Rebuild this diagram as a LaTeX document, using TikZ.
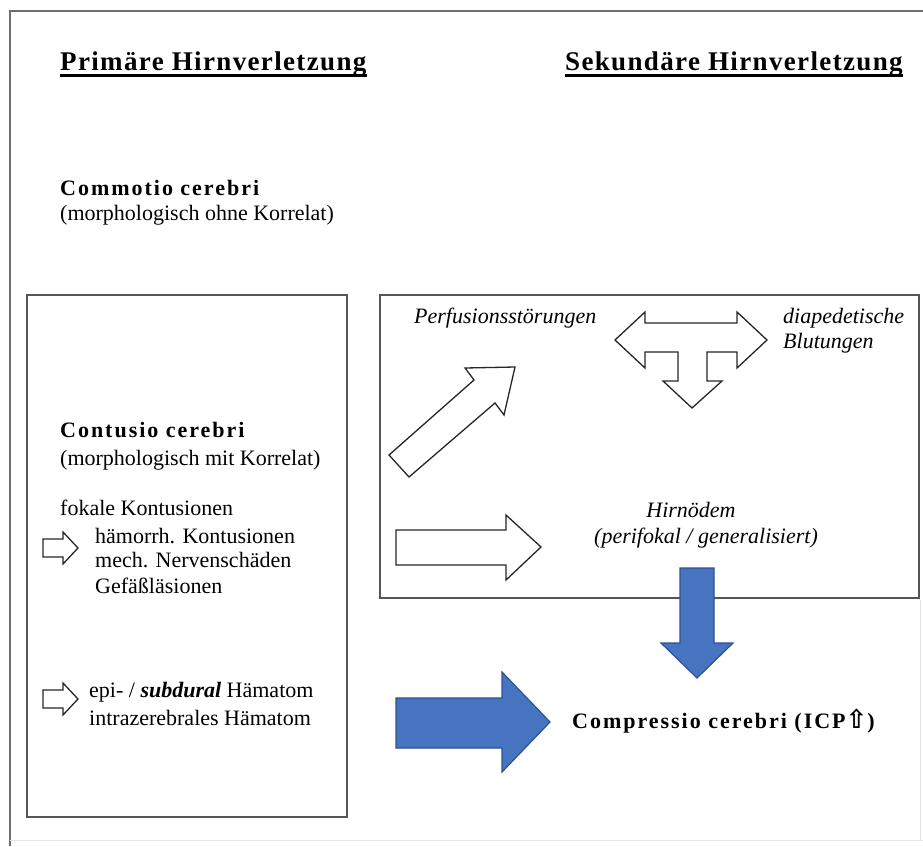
\documentclass[tikz,border=0pt]{standalone}
\usepackage{fontspec}
\setmainfont{Liberation Serif}
\newfontfamily\symfont{DejaVu Sans}
\definecolor{frameline}{RGB}{110,110,110}
\definecolor{boxline}{RGB}{85,85,85}
\definecolor{arrowblue}{RGB}{70,116,193}
\definecolor{arrowedge}{RGB}{44,82,143}
\begin{document}
\begin{tikzpicture}[x=1pt,y=-1pt,
  txt/.style={inner sep=0pt, anchor=base west, font=\fontsize{22}{25}\selectfont},
  itxt/.style={txt, font=\fontsize{22}{25}\selectfont\itshape},
  headline/.style={inner sep=0pt, anchor=base west,
    font=\fontsize{27}{30}\selectfont\bfseries\addfontfeature{LetterSpace=5}},
  boldtxt/.style={inner sep=0pt, anchor=base west,
    font=\fontsize{22}{25}\selectfont\bfseries\addfontfeature{LetterSpace=9}},
  hollow/.style={draw=black!85, line width=1.3pt, fill=white, line join=miter},
  solid/.style={draw=arrowedge, line width=1.2pt, fill=arrowblue, line join=miter},
  panel/.style={draw=boxline, line width=2pt},
  rulebar/.style={line width=3pt, black}]
\useasboundingbox (0,0) rectangle (923,846);

% page frame
\draw[frameline, line width=2pt] (10,846) -- (10,11) -- (923,11);
\draw[black!10, line width=1pt] (10,840) -- (923,840);
\draw[black!10, line width=1pt] (920,600) -- (920,840);

% headings
\node[headline] (h1) at (60,70) {Primäre Hirnverletzung};
\node[headline] (h2) at (565,70) {Sekundäre Hirnverletzung};
\draw[rulebar] ([yshift=-5pt]h1.base west) -- ([yshift=-5pt]h1.base east);
\draw[rulebar] ([yshift=-5pt]h2.base west) -- ([yshift=-5pt]h2.base east);

% commotio
\node[boldtxt] (commotio) at (60,195) {Commotio cerebri};
\node[txt] (commotioNote) at (60,220) {(morphologisch ohne Korrelat)};

% panels
\draw[panel] (27,295) rectangle (347,817);
\draw[panel] (380,295) rectangle (919,598);

% left panel
\node[boldtxt] (contusio) at (60,437) {Contusio cerebri};
\node[txt] (contusioNote) at (60,465) {(morphologisch mit Korrelat)};
\node[txt] (fokal) at (60,515) {fokale Kontusionen};
\node[txt] (haem) at (95,543) {hämorrh. Kontusionen};
\node[txt] (mech) at (95,567) {mech. Nervenschäden};
\node[txt] (gef) at (95,593) {Gefäßläsionen};
\node[txt] (epi) at (89,697) {epi- / \textbf{\textit{subdural}} Hämatom};
\node[txt] (intra) at (89,725) {intrazerebrales Hämatom};

\draw[hollow] (43,539) -- (63,539) -- (63,532) -- (78,548) -- (63,564) -- (63,557) -- (43,557) -- cycle;
\draw[hollow] (43,690) -- (63,690) -- (63,683) -- (78,699) -- (63,715) -- (63,708) -- (43,708) -- cycle;

% right panel
\node[itxt] (perf) at (414,323) {Perfusionsstörungen};
\node[itxt] (diap) at (783,323) {diapedetische};
\node[itxt] (blut) at (783,348) {Blutungen};
\node[itxt, anchor=base] (oedem) at (691,517) {Hirnödem};
\node[itxt, anchor=base] (peri) at (706,543) {(perifokal / generalisiert)};

% T-shaped double arrow
\draw[hollow] (615,340) -- (645,312) -- (645,323) -- (737,323) -- (737,312) -- (767,340)
  -- (737,368) -- (737,352) -- (707,352) -- (707,381) -- (722,381) -- (692,408)
  -- (663,381) -- (678,381) -- (678,352) -- (645,352) -- (645,368) -- cycle;

% diagonal arrow
\draw[hollow] (389,455) -- (474,380) -- (465,368) -- (515,367) -- (504,415)
  -- (495,403) -- (409,477) -- cycle;

% horizontal arrow towards Hirnödem
\draw[hollow] (396,530) -- (506,530) -- (506,515) -- (541,547) -- (506,580)
  -- (506,565) -- (396,565) -- cycle;

% compression
\node[boldtxt] (compr) at (572,728) {Compressio cerebri (ICP{\symfont\bfseries\fontsize{26}{26}\selectfont ⇧})};

\draw[solid] (680,568) -- (714,568) -- (714,643) -- (733,643) -- (697,678)
  -- (661,643) -- (680,643) -- cycle;
\draw[solid] (396,698) -- (502,698) -- (502,672) -- (550,722) -- (502,772)
  -- (502,748) -- (396,748) -- cycle;
\end{tikzpicture}
\end{document}
